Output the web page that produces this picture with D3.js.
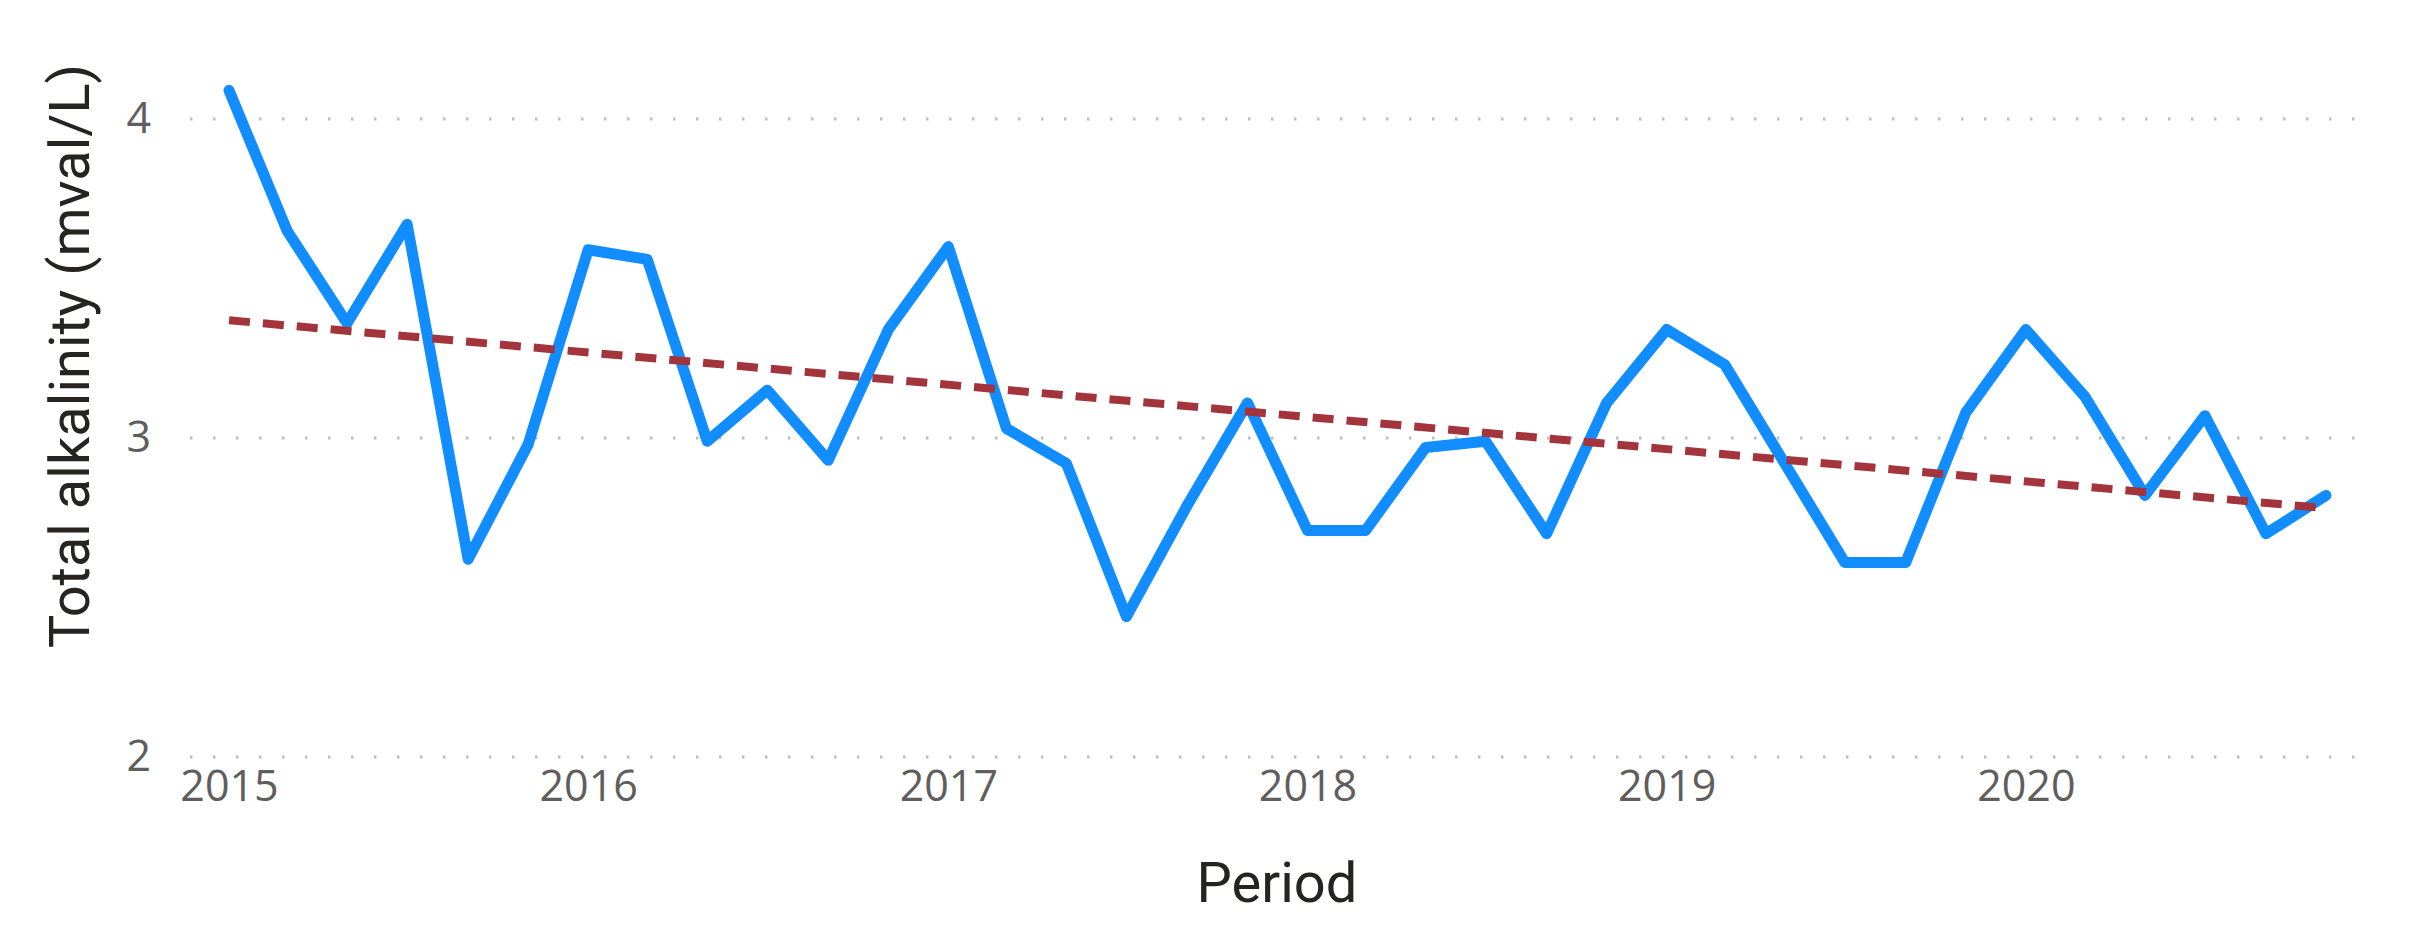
<!DOCTYPE html>
<html>
<head>
<meta charset="utf-8">
<script src="https://cdn.jsdelivr.net/npm/d3@7"></script>
<style>
  body { margin: 0; background: #fff; }
  .viz { width: 2415px; height: 942px; }
</style>
</head>
<body>
<div class="viz"></div>
<script>
// bimonthly samples
const periods = [
  '2015-01', '2015-03', '2015-05', '2015-07', '2015-09', '2015-11',
  '2016-01', '2016-03', '2016-05', '2016-07', '2016-09', '2016-11',
  '2017-01', '2017-03', '2017-05', '2017-07', '2017-09', '2017-11',
  '2018-01', '2018-03', '2018-05', '2018-07', '2018-09', '2018-11',
  '2019-01', '2019-03', '2019-05', '2019-07', '2019-09', '2019-11',
  '2020-01', '2020-03', '2020-05', '2020-07', '2020-09', '2020-11'
];
const alkalinity = [
  4.09, 3.65, 3.36, 3.67, 2.62, 2.98,
  3.59, 3.56, 2.99, 3.15, 2.93, 3.34,
  3.60, 3.03, 2.92, 2.44, 2.79, 3.11,
  2.71, 2.71, 2.97, 2.99, 2.70, 3.11,
  3.34, 3.23, 2.92, 2.61, 2.61, 3.08,
  3.34, 3.13, 2.82, 3.07, 2.70, 2.82
];
const yTicks = [2, 3, 4];
const yearTicks = ['2015', '2016', '2017', '2018', '2019', '2020'];

const parseMonth = d3.timeParse('%Y-%m');
const parseYear = d3.timeParse('%Y');

const data = periods.map((p, i) => ({ date: parseMonth(p), value: alkalinity[i] }));

const width = 2415, height = 942;

const x = d3.scaleTime()
  .domain(d3.extent(data, d => d.date))
  .range([229, 2326]);
const y = d3.scaleLinear().domain([2, 4]).range([757, 119]);

const svg = d3.select('.viz').append('svg')
  .attr('width', width)
  .attr('height', height);

// gridlines
svg.append('g')
  .selectAll('line')
  .data(yTicks)
  .join('line')
  .attr('x1', 190)
  .attr('x2', 2358)
  .attr('y1', d => y(d))
  .attr('y2', d => y(d))
  .attr('stroke', '#bdbdbd')
  .attr('stroke-width', 3)
  .attr('stroke-dasharray', '2.5,20.5');

// y axis labels
const yAxis = svg.append('g')
  .attr('transform', 'translate(151,0)')
  .call(d3.axisLeft(y).tickValues(yTicks).tickSize(0).tickPadding(0).tickFormat(d3.format('d')));
yAxis.select('.domain').remove();
yAxis.selectAll('text')
  .attr('font-family', '"Open Sans", sans-serif')
  .attr('font-size', 43)
  .attr('fill', '#605E5C');

// x axis labels
const xAxis = svg.append('g')
  .attr('transform', 'translate(0,770)')
  .call(d3.axisBottom(x).tickValues(yearTicks.map(parseYear)).tickSize(0).tickPadding(0).tickFormat(d3.timeFormat('%Y')));
xAxis.select('.domain').remove();
xAxis.selectAll('text')
  .attr('dy', '0.71em')
  .attr('font-family', '"Open Sans", sans-serif')
  .attr('font-size', 43)
  .attr('fill', '#605E5C');

// axis titles
svg.append('text')
  .attr('x', 1277)
  .attr('y', 902)
  .attr('text-anchor', 'middle')
  .attr('font-family', 'Roboto, sans-serif')
  .attr('font-size', 56)
  .attr('fill', '#252423')
  .text('Period');

svg.append('text')
  .attr('transform', 'translate(89,356) rotate(-90)')
  .attr('text-anchor', 'middle')
  .attr('font-family', 'Roboto, sans-serif')
  .attr('font-size', 56)
  .attr('fill', '#252423')
  .text('Total alkalinity (mval/L)');

// main series
const line = d3.line()
  .x(d => x(d.date))
  .y(d => y(d.value));

svg.append('path')
  .datum(data)
  .attr('fill', 'none')
  .attr('stroke', '#118DFF')
  .attr('stroke-width', 11)
  .attr('stroke-linejoin', 'round')
  .attr('stroke-linecap', 'round')
  .attr('d', line);

// least squares trend line
const xs = data.map((d, i) => i);
const mx = d3.mean(xs), my = d3.mean(alkalinity);
const slope = d3.sum(xs, i => (i - mx) * (alkalinity[i] - my)) / d3.sum(xs, i => (i - mx) * (i - mx));
const trend = data.map((d, i) => ({ date: d.date, value: my + slope * (i - mx) }));

svg.append('path')
  .datum([trend[0], trend[trend.length - 1]])
  .attr('fill', 'none')
  .attr('stroke', '#A4343C')
  .attr('stroke-width', 8)
  .attr('stroke-dasharray', '21,13')
  .attr('d', line);
</script>
</body>
</html>
